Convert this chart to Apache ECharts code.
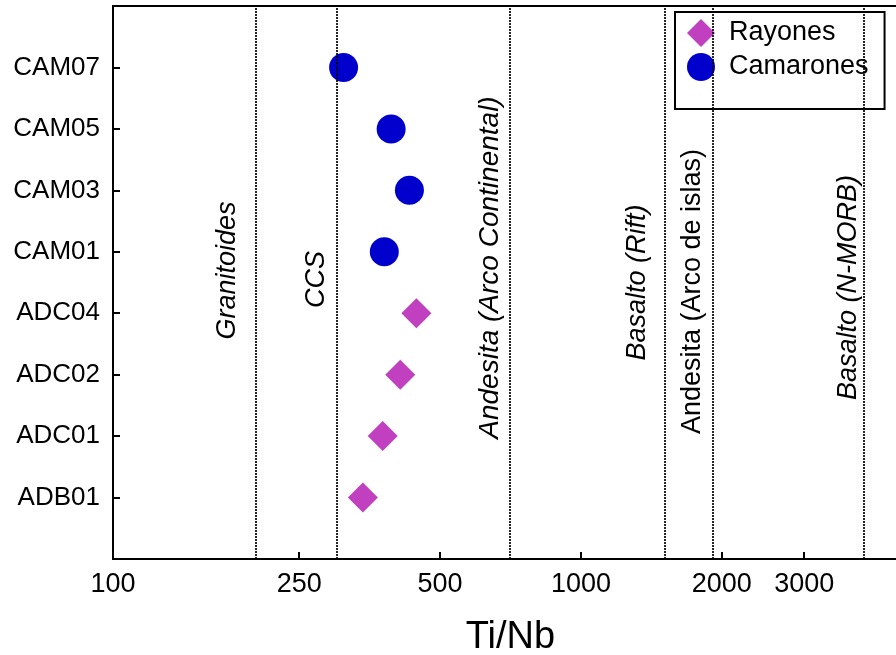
<!DOCTYPE html>
<html>
<head>
<meta charset="utf-8">
<script src="https://cdn.jsdelivr.net/npm/echarts@6/dist/echarts.min.js"></script>
<style>
  html, body { margin: 0; padding: 0; background: #ffffff; }
  #chart { width: 896px; height: 655px; }
</style>
</head>
<body>
<div id="chart"></div>
<script>
// Sample order on the vertical axis (blank entries pad the top and bottom).
const samples = ['', 'ADB01', 'ADC01', 'ADC02', 'ADC04', 'CAM01', 'CAM03', 'CAM05', 'CAM07', ''];

// Ti/Nb ratios per locality.
const rayonesSamples = ['ADB01', 'ADC01', 'ADC02', 'ADC04'];
const rayonesTiNb = [342, 377, 411, 445];
const camaronesSamples = ['CAM01', 'CAM03', 'CAM05', 'CAM07'];
const camaronesTiNb = [380, 430, 393, 311];

// Labelled ticks on the logarithmic Ti/Nb axis.
const tickValues = [100, 250, 500, 1000, 2000, 3000];

// Reference Ti/Nb values of typical rock types.
const refValues = [202, 300, 705, 1510, 1910, 4020];
const refNames = ['Granitoides', 'CCS', 'Andesita (Arco Continental)', 'Basalto (Rift)', 'Andesita (Arco de islas)', 'Basalto (N-MORB)'];
const refItalic = [true, true, true, true, false, true];

// Placement of the reference captions relative to their line (pixels).
const refLabelDx = [-28, -20, -20, -27, -20, -15];
const refLabelDy = [-12, -3, -15, 0, 9, 5];
const refLabelSize = [27, 27, 28, 27, 27, 27];

const FONT = '"Liberation Sans", Arial, Helvetica, sans-serif';

const chart = echarts.init(document.getElementById('chart'), null, { renderer: 'canvas' });

const option = {
  animation: false,
  backgroundColor: '#ffffff',
  grid: {
    left: 113, top: 6, bottom: 96, right: -12,
    outerBoundsMode: 'none',
    containLabel: false,
    show: true, borderColor: '#000', borderWidth: 2, backgroundColor: 'transparent'
  },
  xAxis: {
    type: 'log',
    logBase: 10,
    min: 100,
    max: 5000,
    name: 'Ti/Nb',
    nameLocation: 'middle',
    nameGap: 60,
    nameTextStyle: { color: '#000', fontSize: 38, fontFamily: FONT },
    axisLine: { show: true, lineStyle: { color: '#000', width: 2 } },
    axisTick: { show: true, inside: true, length: 7, lineStyle: { color: '#000', width: 2 }, customValues: tickValues },
    axisLabel: {
      show: true, color: '#000', fontSize: 27, fontFamily: FONT, margin: 12,
      customValues: tickValues,
      formatter: v => String(Math.round(v))
    },
    splitLine: { show: false },
    minorTick: { show: false }
  },
  yAxis: {
    type: 'category',
    data: samples,
    boundaryGap: false,
    axisLine: { show: true, lineStyle: { color: '#000', width: 2 } },
    axisTick: { show: true, inside: true, length: 7, lineStyle: { color: '#000', width: 2 } },
    axisLabel: { show: true, color: '#000', fontSize: 26, fontFamily: FONT, margin: 13, interval: 0 },
    splitLine: { show: false }
  },
  legend: {
    orient: 'vertical',
    left: 675,
    top: 12,
    padding: [7, 16, 28, 12],
    itemGap: 6,
    itemWidth: 28,
    itemHeight: 28,
    backgroundColor: '#ffffff',
    borderColor: '#000',
    borderWidth: 2,
    borderRadius: 0,
    textStyle: { color: '#000', fontSize: 27, fontFamily: FONT, padding: [0, 0, 0, 9] },
    data: ['Rayones', 'Camarones']
  },
  series: [
    {
      name: 'Rayones',
      type: 'scatter',
      symbol: 'diamond',
      symbolSize: 30,
      itemStyle: { color: '#c040c0', opacity: 1 },
      data: rayonesSamples.map((s, i) => [rayonesTiNb[i], s]),
      z: 3,
      markLine: {
        silent: true,
        symbol: ['none', 'none'],
        label: { show: false },
        lineStyle: { color: '#000', type: [2, 1], width: 2, opacity: 0.85 },
        data: refValues.map(v => ({ xAxis: v }))
      }
    },
    {
      name: 'Camarones',
      type: 'scatter',
      symbol: 'circle',
      symbolSize: 29,
      itemStyle: { color: '#0000cc', opacity: 1 },
      data: camaronesSamples.map((s, i) => [camaronesTiNb[i], s]),
      z: 3
    }
  ]
};

chart.setOption(option);

// Rotated captions beside each reference line, located through the axes.
const midY = (chart.convertToPixel({ yAxisIndex: 0 }, 0) +
              chart.convertToPixel({ yAxisIndex: 0 }, samples.length - 1)) / 2;
const captions = refValues.map((v, i) => {
  const px = chart.convertToPixel({ xAxisIndex: 0 }, v);
  return {
    type: 'text',
    x: px + refLabelDx[i],
    y: midY + refLabelDy[i],
    rotation: Math.PI / 2,
    z: 5,
    style: {
      text: refNames[i],
      fill: '#000',
      fontSize: refLabelSize[i],
      fontFamily: FONT,
      fontStyle: refItalic[i] ? 'italic' : 'normal',
      align: 'center',
      verticalAlign: 'middle'
    }
  };
});
chart.setOption({ graphic: captions });
</script>
</body>
</html>
